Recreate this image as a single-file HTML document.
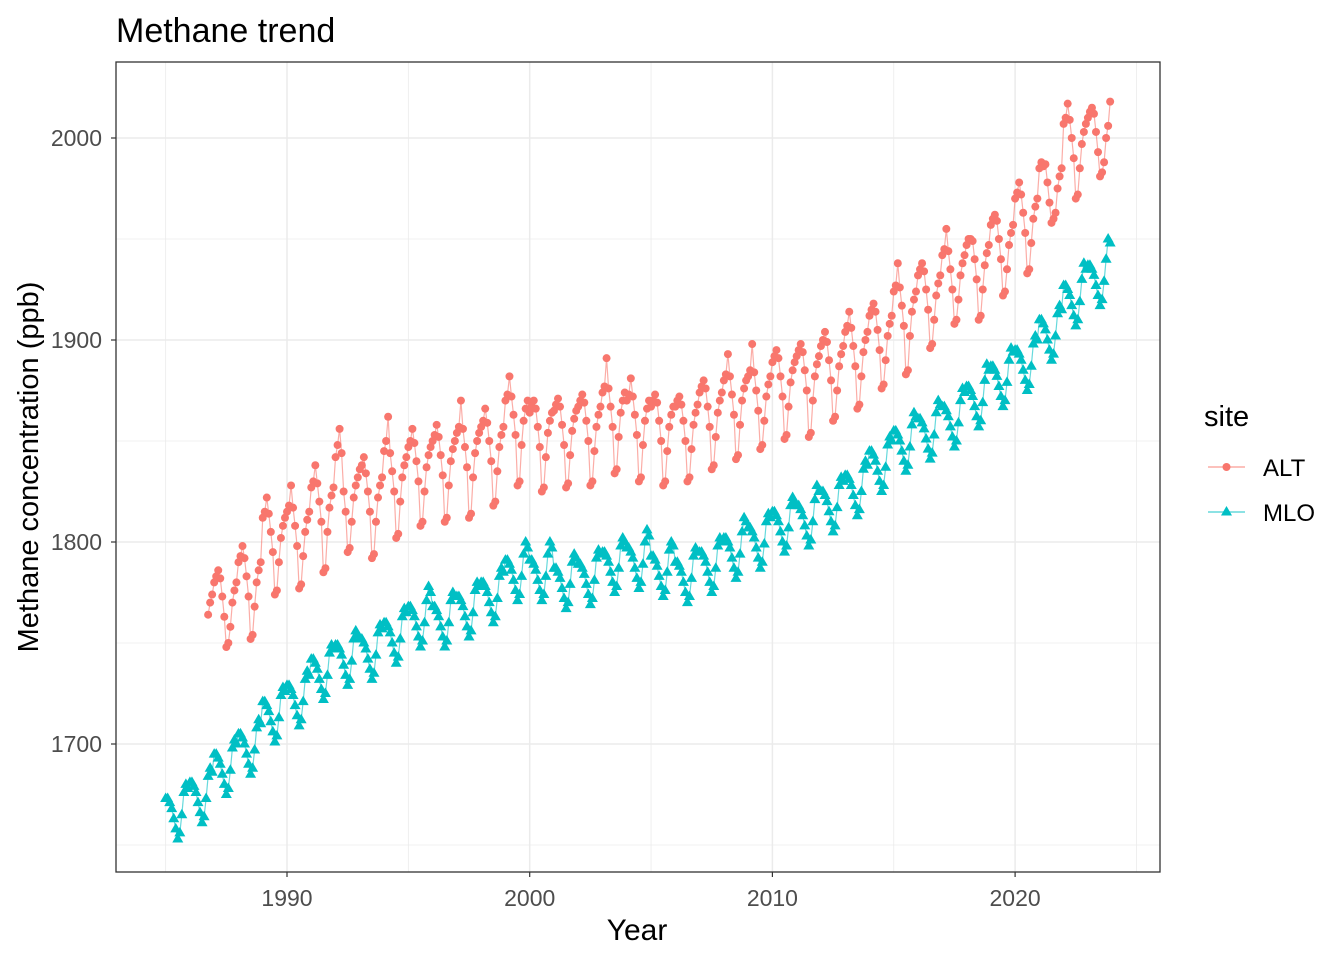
<!DOCTYPE html>
<html><head><meta charset="utf-8"><style>
body{margin:0;background:#fff;font-family:"Liberation Sans",sans-serif}
svg text{font-family:"Liberation Sans",sans-serif}
</style></head><body>
<svg id="chart" width="1344" height="960" xmlns="http://www.w3.org/2000/svg">
<rect x="0" y="0" width="1344" height="960" fill="#fff"/>
<text x="116" y="42" font-size="34" fill="#000">Methane trend</text>
<g id="grid"></g>
<g id="series"></g>
<rect x="116" y="62" width="1044" height="810" fill="none" stroke="#333" stroke-width="1.3"/>
<g id="axes"></g>
<text x="637" y="940" font-size="30" text-anchor="middle">Year</text>
<text transform="translate(38,467) rotate(-90)" font-size="29" text-anchor="middle">Methane concentration (ppb)</text>
<g>
<text x="1204" y="426" font-size="29">site</text>
<g>
<line x1="1208" y1="467" x2="1245" y2="467" stroke="#F8766D" stroke-opacity="0.6" stroke-width="1.5"/>
<circle cx="1226.5" cy="467" r="4" fill="#F8766D"/>
<text x="1263" y="476" font-size="24">ALT</text></g>
<g>
<line x1="1208" y1="512" x2="1245" y2="512" stroke="#00BFC4" stroke-opacity="0.6" stroke-width="1.5"/>
<polygon points="1226.5,506 1232,515.5 1221,515.5" fill="#00BFC4"/>
<text x="1263" y="521" font-size="24">MLO</text></g>
</g>
</svg>
<script>
const xTicks=[1990,2000,2010,2020];
const xMinor=[1985,1995,2005,2015,2025];
const yTicks=[1700,1800,1900,2000];
const yMinor=[1650,1750,1850,1950];
const mloStart=1985.0;
const mloValues=[
1673,1673,1671,1668,1663,1658,1653,1656,1665,1676,1680,1678,
1681,1681,1679,1676,1671,1666,1661,1664,1673,1684,1688,1686,
1695,1695,1693,1690,1685,1680,1675,1678,1687,1698,1702,1700,
1705,1705,1703,1700,1695,1690,1685,1688,1697,1708,1712,1710,
1721,1721,1719,1716,1711,1706,1701,1704,1713,1724,1728,1726,
1729,1729,1727,1724,1719,1714,1709,1712,1721,1732,1736,1734,
1742,1742,1740,1737,1732,1727,1722,1725,1734,1745,1749,1747,
1749,1749,1747,1744,1739,1734,1729,1732,1741,1752,1756,1754,
1752,1752,1750,1747,1742,1737,1732,1735,1744,1755,1759,1757,
1760,1760,1758,1755,1750,1745,1740,1743,1752,1763,1767,1765,
1768,1768,1766,1763,1758,1753,1748,1751,1760,1771,1778,1775,
1768,1768,1766,1763,1758,1753,1748,1751,1760,1771,1775,1773,
1773,1773,1771,1768,1763,1758,1753,1756,1765,1776,1780,1778,
1780,1780,1778,1775,1770,1765,1760,1763,1772,1783,1787,1785,
1791,1791,1789,1786,1781,1776,1771,1774,1783,1794,1800,1797,
1791,1791,1789,1786,1781,1776,1771,1774,1783,1794,1800,1797,
1787,1787,1785,1782,1777,1772,1767,1770,1779,1790,1794,1792,
1789,1789,1787,1784,1779,1774,1769,1772,1781,1792,1796,1794,
1795,1795,1793,1790,1785,1780,1775,1778,1787,1798,1802,1800,
1797,1797,1795,1792,1787,1782,1777,1780,1789,1800,1806,1803,
1793,1793,1791,1788,1783,1778,1773,1776,1785,1796,1800,1798,
1790,1790,1788,1785,1780,1775,1770,1773,1782,1793,1797,1795,
1795,1795,1793,1790,1785,1780,1775,1778,1787,1798,1802,1800,
1802,1802,1800,1797,1792,1787,1782,1785,1794,1805,1812,1810,
1807,1807,1805,1802,1797,1792,1787,1790,1799,1810,1814,1812,
1815,1815,1813,1810,1805,1800,1795,1798,1807,1818,1822,1820,
1818,1818,1816,1813,1808,1803,1798,1801,1810,1821,1828,1825,
1825,1825,1823,1820,1815,1810,1805,1808,1817,1828,1832,1830,
1833,1833,1831,1828,1823,1818,1813,1816,1825,1836,1840,1838,
1845,1845,1843,1840,1835,1830,1825,1828,1837,1848,1852,1850,
1855,1855,1853,1850,1845,1840,1835,1838,1847,1858,1864,1862,
1861,1861,1859,1856,1851,1846,1841,1844,1853,1864,1870,1868,
1867,1867,1865,1862,1857,1852,1847,1850,1859,1870,1876,1874,
1877,1877,1875,1872,1867,1862,1857,1860,1869,1880,1888,1885,
1887,1887,1885,1882,1877,1872,1867,1870,1879,1890,1896,1894,
1895,1895,1893,1890,1885,1880,1875,1878,1887,1898,1902,1900,
1910,1910,1908,1905,1900,1895,1890,1893,1902,1913,1917,1915,
1927,1927,1925,1922,1917,1912,1907,1910,1919,1930,1938,1935,
1937,1937,1935,1932,1927,1922,1917,1920,1929,1940,1950,1948];
const altStart=1986.75;
const altValues=[
1764,1770,1774,
1780,1783,1786,1782,1773,1763,1748,1750,1758,1770,1776,1780,
1790,1793,1798,1792,1783,1773,1752,1754,1768,1780,1786,1790,
1812,1815,1822,1814,1805,1795,1774,1776,1790,1802,1808,1812,
1815,1818,1828,1817,1808,1798,1777,1779,1793,1805,1811,1815,
1827,1830,1838,1829,1820,1810,1785,1787,1805,1817,1823,1827,
1842,1848,1856,1844,1825,1815,1795,1797,1810,1822,1828,1832,
1836,1838,1842,1834,1825,1815,1792,1794,1810,1822,1828,1832,
1845,1850,1862,1844,1835,1825,1802,1804,1820,1832,1838,1842,
1847,1850,1856,1849,1840,1830,1808,1810,1825,1837,1843,1847,
1850,1853,1858,1852,1843,1833,1810,1812,1828,1840,1846,1850,
1854,1857,1870,1856,1847,1837,1812,1814,1832,1844,1850,1854,
1857,1860,1866,1859,1850,1840,1818,1820,1835,1847,1853,1857,
1870,1873,1882,1872,1863,1853,1828,1830,1848,1860,1866,1870,
1864,1867,1870,1866,1857,1847,1825,1827,1842,1854,1860,1864,
1865,1868,1871,1867,1858,1848,1827,1829,1843,1855,1861,1865,
1867,1870,1873,1869,1860,1850,1828,1830,1845,1857,1863,1867,
1874,1877,1891,1876,1867,1857,1834,1836,1852,1864,1870,1874,
1870,1873,1881,1872,1863,1853,1830,1832,1848,1860,1866,1870,
1867,1870,1873,1869,1860,1850,1828,1830,1845,1857,1863,1867,
1867,1870,1872,1868,1860,1850,1830,1832,1846,1858,1864,1868,
1874,1877,1880,1876,1867,1857,1836,1838,1852,1864,1870,1874,
1880,1883,1893,1882,1873,1863,1841,1843,1858,1870,1876,1880,
1882,1885,1898,1884,1875,1865,1846,1848,1860,1872,1878,1882,
1889,1892,1895,1891,1882,1872,1851,1853,1867,1879,1885,1889,
1892,1895,1898,1894,1885,1875,1852,1854,1870,1882,1888,1892,
1897,1900,1904,1899,1890,1880,1860,1862,1875,1887,1893,1897,
1904,1907,1914,1906,1897,1887,1866,1868,1882,1894,1900,1904,
1912,1915,1918,1914,1905,1895,1876,1878,1890,1902,1908,1912,
1924,1927,1938,1926,1917,1907,1883,1885,1902,1914,1920,1924,
1932,1935,1938,1934,1925,1915,1896,1898,1910,1922,1928,1932,
1942,1945,1955,1944,1935,1925,1908,1910,1920,1932,1938,1942,
1947,1950,1950,1949,1940,1930,1910,1912,1925,1937,1943,1947,
1957,1960,1962,1959,1950,1940,1922,1924,1935,1947,1953,1957,
1970,1973,1978,1972,1963,1953,1933,1935,1948,1960,1966,1970,
1985,1988,1986,1987,1978,1968,1958,1960,1963,1975,1981,1985,
2007,2010,2017,2009,2000,1990,1970,1972,1985,1997,2003,2007,
2010,2013,2015,2012,2003,1993,1981,1983,1988,2000,2006,2018];

const X=y=>287+(y-1990)*24.27;
const Y=v=>542-(v-1800)*2.02;
const NS="http://www.w3.org/2000/svg";
function mk(tag,attrs,parent){const e=document.createElementNS(NS,tag);for(const k in attrs)e.setAttribute(k,attrs[k]);parent.appendChild(e);return e;}
const grid=document.getElementById('grid'),axes=document.getElementById('axes'),ser=document.getElementById('series');
yMinor.forEach(v=>{const l=mk('line',{x1:116,x2:1160,y1:Y(v),y2:Y(v),stroke:'#ebebeb','stroke-width':0.8},grid);

});
xMinor.forEach(v=>{const l=mk('line',{x1:X(v),x2:X(v),y1:62,y2:872,stroke:'#ebebeb','stroke-width':0.8},grid);

});
yTicks.forEach(v=>{const l=mk('line',{x1:116,x2:1160,y1:Y(v),y2:Y(v),stroke:'#ebebeb','stroke-width':1.5},grid);


const t=mk('line',{x1:111,x2:116,y1:Y(v),y2:Y(v),stroke:'#333','stroke-width':1.2},axes);


const tx=mk('text',{x:102,y:Y(v)+8,'font-size':23,fill:'#4d4d4d','text-anchor':'end'},axes);tx.textContent=v;

});
xTicks.forEach(v=>{const l=mk('line',{x1:X(v),x2:X(v),y1:62,y2:872,stroke:'#ebebeb','stroke-width':1.5},grid);


const t=mk('line',{x1:X(v),x2:X(v),y1:872,y2:877,stroke:'#333','stroke-width':1.2},axes);


const tx=mk('text',{x:X(v),y:906,'font-size':23,fill:'#4d4d4d','text-anchor':'middle'},axes);tx.textContent=v;

});
function draw(vals,start,color,shape,name){
  const pts=vals.map((v,i)=>[X(start+i/12),Y(v)]);
  const pl=mk('polyline',{points:pts.map(p=>p.join(',')).join(' '),fill:'none',stroke:color,'stroke-opacity':0.6,'stroke-width':1.2},ser);
  
  
  pts.forEach(p=>{let m;
    if(shape==='circle')m=mk('circle',{cx:p[0],cy:p[1],r:4,fill:color},ser);
    else m=mk('polygon',{points:`${p[0]},${p[1]-6} ${p[0]+5.5},${p[1]+3.5} ${p[0]-5.5},${p[1]+3.5}`,fill:color},ser);
    
    });
}
draw(altValues,altStart,'#F8766D','circle','alt');
draw(mloValues,mloStart,'#00BFC4','triangle','mlo');
</script>
</body></html>
